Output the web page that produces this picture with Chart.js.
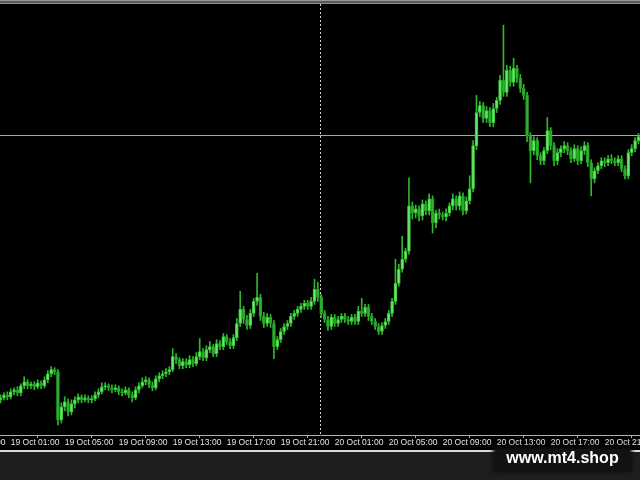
<!DOCTYPE html>
<html>
<head>
<meta charset="utf-8">
<script src="https://cdn.jsdelivr.net/npm/chart.js@4.4.1/dist/chart.umd.min.js"></script>
<style>
  html, body { margin: 0; padding: 0; background: #1e1e1e; }
  #wrap { position: relative; width: 640px; height: 480px; }
  #logo {
    position: absolute; left: 495px; top: 449px; width: 135px; height: 21px;
    background: #121212; color: #fff; text-align: center; line-height: 21px;
    font: bold 16px "Liberation Sans", Arial, sans-serif;
    box-shadow: 0 0 4px 2px #0e0e0e;
  }
</style>
</head>
<body>
<div id="wrap">
  <canvas id="grafico" width="640" height="480"></canvas>
  <div id="logo">www.mt4.shop</div>
</div>
<script>
// ===============================
//  DATI (M15, 19-20 Oct)
// ===============================
const barStepHours = 0.25;   // 15 minuti
const firstBarHour = 0.25;   // 19 Oct 00:15

const opens = [
  35,37,40,38,43,45,42,49,53,49,
  51,48,52,49,55,61,65,63,15,28,
  33,23,31,35,38,35,37,35,36,40,
  43,48,49,47,45,47,43,42,45,40,
  37,45,49,53,55,50,47,56,59,61,
  63,65,78,75,69,73,70,75,71,78,
  83,77,85,88,81,91,88,98,93,89,
  97,111,125,115,109,121,133,137,118,111,
  117,111,88,95,103,108,111,118,121,125,
  128,131,128,133,145,137,121,115,108,117,
  111,115,118,115,113,117,113,123,121,127,
  118,113,108,103,109,113,121,133,151,165,
  175,183,228,221,225,218,230,223,235,211,
  221,219,217,221,228,235,228,238,223,233,
  245,288,321,328,315,323,311,325,333,353,
  341,363,351,365,355,345,338,298,283,293,
  278,273,283,303,288,273,281,285,288,283,
  275,285,273,283,288,271,255,263,268,273,
  271,275,273,271,275,265,258,281,285,293
];
const highs = [
  40,42,43,46,47,48,51,58,55,53,
  53,55,54,58,64,68,67,65,32,38,
  36,35,38,41,40,40,39,39,43,46,
  52,52,51,50,50,49,46,48,47,43,
  48,52,57,58,57,53,59,62,64,66,
  68,86,81,77,76,76,79,78,82,96,
  86,89,93,90,95,94,101,100,96,100,
  116,143,128,119,125,136,161,140,122,121,
  120,114,98,106,111,114,121,124,128,131,
  134,134,137,155,152,140,124,118,120,120,
  118,121,121,118,120,120,128,136,130,130,
  121,116,111,112,116,124,136,175,170,198,
  186,256,232,229,228,234,233,240,238,224,
  225,222,225,231,240,238,242,241,237,258,
  293,338,332,331,327,326,330,336,358,408,
  368,367,375,368,359,349,341,301,297,296,
  281,286,316,306,291,285,288,292,291,286,
  289,288,287,292,291,274,266,271,276,276,
  278,279,276,278,278,268,284,289,296,300
];
const lows = [
  32,35,35,36,40,39,39,46,46,46,
  45,46,46,47,52,58,60,10,12,24,
  19,20,27,32,32,33,32,32,34,37,
  41,45,44,42,43,40,39,40,37,33,
  35,42,47,50,47,44,45,53,56,58,
  60,63,71,66,66,67,67,68,69,75,
  74,74,82,78,78,85,85,90,86,86,
  94,108,111,105,106,118,129,114,107,108,
  107,76,85,92,100,105,108,115,118,122,
  125,125,125,130,133,117,112,104,105,108,
  108,112,112,110,110,110,110,118,118,114,
  110,105,100,100,106,110,118,130,148,162,
  172,180,215,216,213,214,219,219,201,206,
  215,214,213,218,224,224,224,219,220,230,
  242,284,317,311,311,307,307,321,329,337,
  337,347,347,351,341,334,292,251,279,274,
  269,269,280,284,268,269,277,281,279,271,
  272,269,270,279,267,238,251,260,265,267,
  268,270,268,268,262,255,255,278,282,290
];
const closes = [
  37,40,38,43,45,42,49,53,49,51,
  48,52,49,55,61,65,63,15,28,33,
  23,31,35,38,35,37,35,36,40,43,
  48,49,47,45,47,43,42,45,40,37,
  45,49,53,55,50,47,56,59,61,63,
  65,78,75,69,73,70,75,71,78,83,
  77,85,88,81,91,88,98,93,89,97,
  111,125,115,109,121,133,137,118,111,117,
  111,88,95,103,108,111,118,121,125,128,
  131,128,133,145,137,121,115,108,117,111,
  115,118,115,113,117,113,123,121,127,118,
  113,108,103,109,113,121,133,151,165,175,
  183,228,221,225,218,230,223,235,211,221,
  219,217,221,228,235,228,238,223,233,245,
  288,321,328,315,323,311,325,333,353,341,
  363,351,365,355,345,338,298,283,293,278,
  273,283,303,288,273,281,285,288,283,275,
  285,273,283,288,271,255,263,268,273,271,
  275,273,271,275,265,258,281,285,293,297
];

// tick asse X (ore da 19 Oct 00:00)
const tickHours = [-3, 1, 5, 9, 13, 17, 21, 25, 29, 33, 37, 41, 45];
const tickLabels = [
  "18 Oct 21:00", "19 Oct 01:00", "19 Oct 05:00", "19 Oct 09:00", "19 Oct 13:00",
  "19 Oct 17:00", "19 Oct 21:00", "20 Oct 01:00", "20 Oct 05:00", "20 Oct 09:00",
  "20 Oct 13:00", "20 Oct 17:00", "20 Oct 21:00"
];
const separatorHour = 24;   // 20 Oct 00:00
const bidLevel = 299;

// finestra visibile
const xMin = 0.2074;
const xMax = 47.615;

// ===============================
//  RECORD CANDELE
// ===============================
const wickData = closes.map((c, i) => ({ x: firstBarHour + i * barStepHours, y: [lows[i], highs[i]] }));
const bodyData = closes.map((c, i) => ({ x: firstBarHour + i * barStepHours, y: [opens[i], c] }));

// rialzo = verde chiaro, ribasso = verde scuro
const bodyFill = closes.map((c, i) => c >= opens[i] ? "#6ae86a" : "#2fb02f");
const bodyEdge = closes.map((c, i) => c >= opens[i] ? "#34c234" : "#239a23");

// ===============================
//  SFONDO + LINEE MT4
// ===============================
const mtBackground = {
  id: "mtBackground",
  beforeDraw(chart) {
    const c = chart.ctx;
    c.save();
    c.fillStyle = "#000"; c.fillRect(0, 0, 640, 450);
    c.fillStyle = "#9a9a9a"; c.fillRect(0, 0, 640, 1);
    c.fillStyle = "#5a5a5a"; c.fillRect(0, 1, 640, 2);
    c.fillStyle = "#8a8a8a"; c.fillRect(0, 3, 640, 1);
    c.fillStyle = "#dcdcdc"; c.fillRect(0, 450, 640, 2);
    c.fillStyle = "#1e1e1e"; c.fillRect(0, 452, 640, 28);
    c.restore();
  },
  beforeDatasetsDraw(chart) {
    const c = chart.ctx;
    const area = chart.chartArea;
    const xs = chart.scales.x, ys = chart.scales.y;
    c.save();
    // linea bid
    const yb = Math.round(ys.getPixelForValue(bidLevel)) + 0.5;
    c.strokeStyle = "#a8a8a8"; c.lineWidth = 1;
    c.beginPath(); c.moveTo(area.left, yb); c.lineTo(area.right, yb); c.stroke();
    // separatore giorno
    const xp = Math.round(xs.getPixelForValue(separatorHour)) - 0.5;
    c.strokeStyle = "#cfcfcf"; c.setLineDash([2, 2]);
    c.beginPath(); c.moveTo(xp, area.top); c.lineTo(xp, area.bottom); c.stroke();
    c.restore();
  }
};

const ctx = document.getElementById("grafico").getContext("2d");

new Chart(ctx, {
  type: "bar",
  data: {
    datasets: [
      {
        label: "wick",
        data: wickData,
        backgroundColor: "#2db82d",
        barThickness: 1,
        grouped: false,
        order: 2
      },
      {
        label: "body",
        data: bodyData,
        backgroundColor: bodyFill,
        borderColor: bodyEdge,
        borderWidth: 1,
        borderSkipped: false,
        barThickness: 3,
        minBarLength: 1,
        grouped: false,
        order: 1
      }
    ]
  },
  options: {
    responsive: false,
    animation: false,
    devicePixelRatio: 1,
    layout: { padding: { top: 4, bottom: 28, left: 0, right: 0 } },
    plugins: { legend: { display: false }, tooltip: { enabled: false } },
    scales: {
      x: {
        type: "linear",
        min: xMin,
        max: xMax,
        offset: false,
        grid: { display: true, drawOnChartArea: false, drawTicks: true, tickLength: 3, color: "#b0b0b0" },
        border: { display: true, color: "#b0b0b0", width: 1 },
        ticks: {
          color: "#e4e4e4",
          font: { family: "'Liberation Sans', Arial, sans-serif", size: 8.5 },
          align: "start",
          maxRotation: 0,
          minRotation: 0,
          autoSkip: false,
          padding: 0,
          callback: (v, i) => tickLabels[i]
        },
        afterBuildTicks: s => { s.ticks = tickHours.map(v => ({ value: v })); },
        afterFit: s => { s.height = 17; s.paddingLeft = 0; s.paddingRight = 0; }
      },
      y: { display: false, min: 0, max: 429 }
    }
  },
  plugins: [mtBackground]
});
</script>
</body>
</html>
